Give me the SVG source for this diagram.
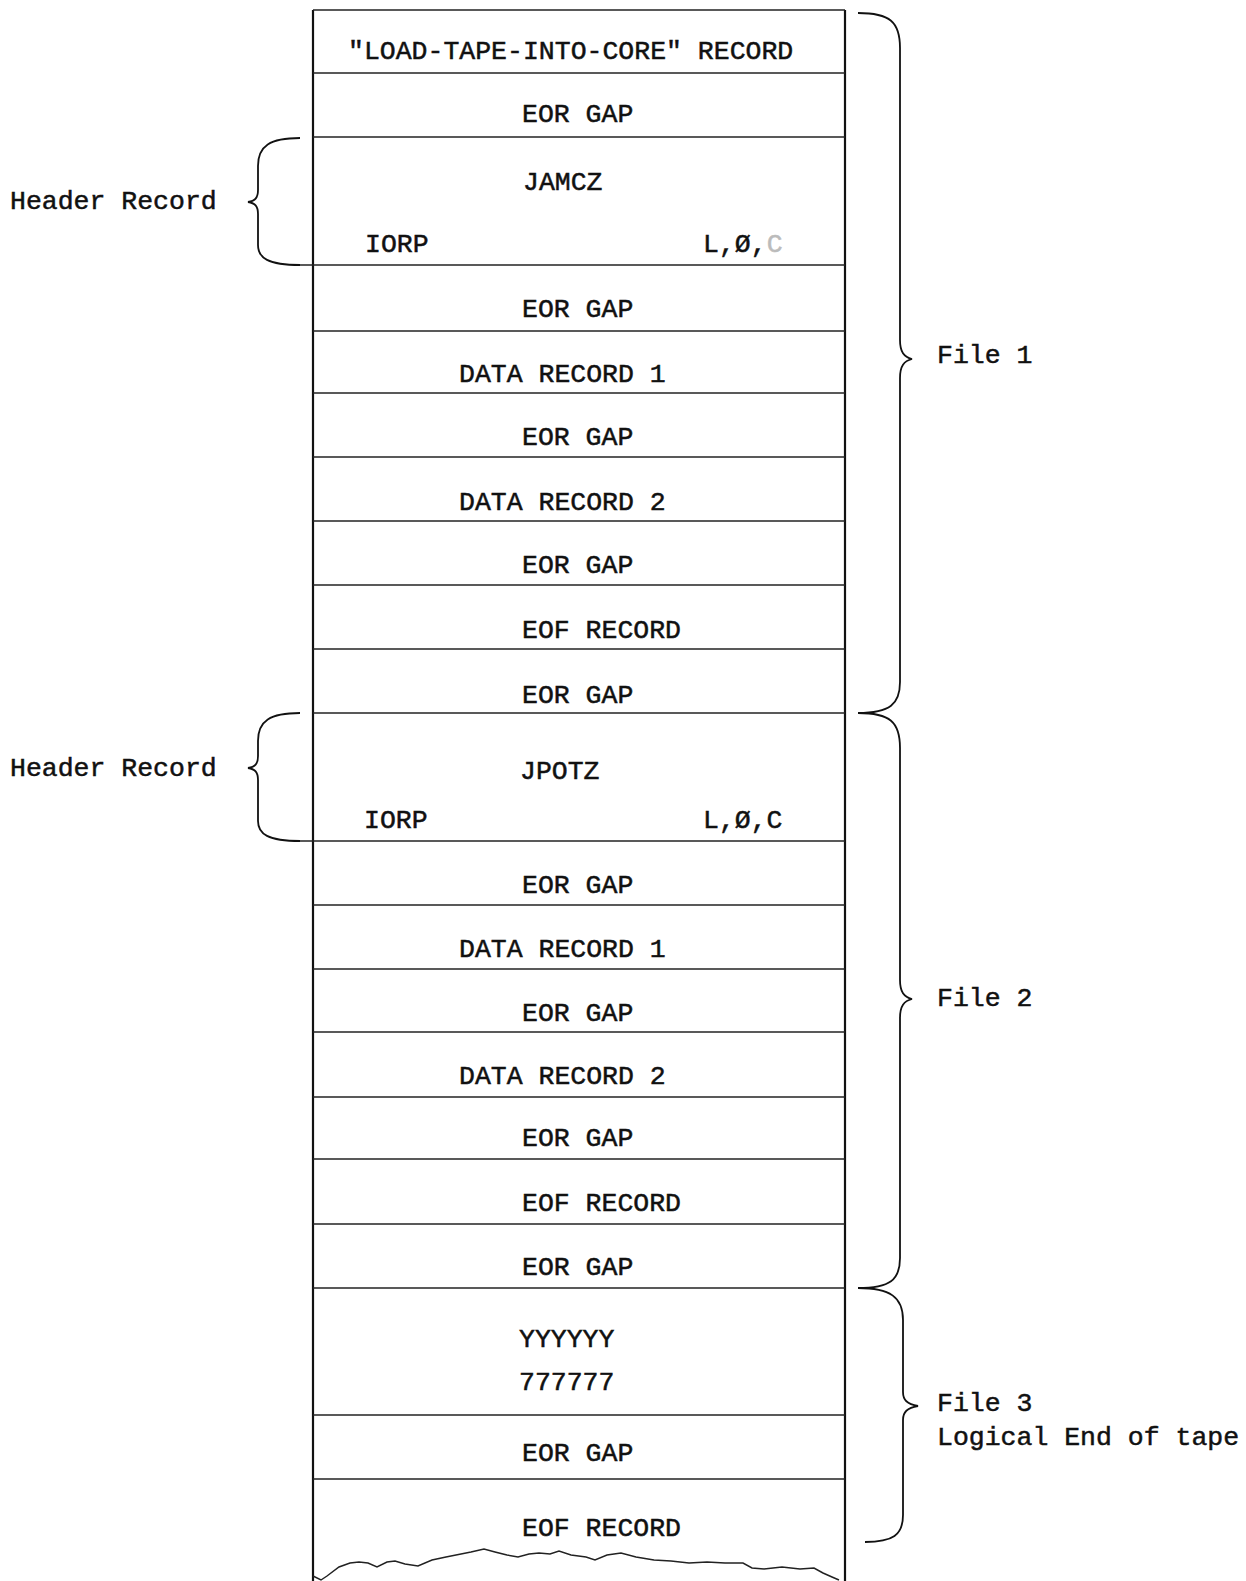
<svg xmlns="http://www.w3.org/2000/svg" width="1246" height="1581" viewBox="0 0 1246 1581">
<style>
  text { font-family: "Liberation Mono", "DejaVu Sans Mono", monospace; font-size: 26.5px; fill: #111; stroke: #111; stroke-width: 0.5; }
  .sep { stroke: #222; stroke-width: 1.5; fill: none; }
  .edge { stroke: #111; stroke-width: 2.2; fill: none; }
  .brace { stroke: #111; stroke-width: 1.8; fill: none; }
  .faint { fill: #bbb; stroke: #bbb; }
</style>
<rect width="1246" height="1581" fill="#fff"/>

<g id="tape">
  <line class="edge" x1="313" y1="10" x2="313" y2="1581"/>
  <line class="edge" x1="845" y1="10" x2="845" y2="1581"/>
  <line class="sep" x1="313" y1="10" x2="845" y2="10"/>
  <path class="sep" stroke-width="1.8" d="M313,1576 L321,1580 L327,1576 L339,1567 L350,1563 L359,1562 L368,1563 L377,1567 L387,1562 L395,1561 L405,1564 L418,1566 L432,1560 L446,1557 L461,1554 L471,1552 L484,1549 L495,1552 L507,1555 L518,1557 L529,1554 L539,1553 L550,1554 L559,1551 L571,1555 L586,1557 L595,1560 L607,1555 L621,1553 L636,1557 L654,1560 L671,1561 L689,1563 L707,1562 L725,1563 L743,1563 L752,1568 L764,1569 L782,1567 L800,1569 L814,1568 L823,1573 L832,1577 L839,1580"/>
</g>

<g id="separators">
  <line class="sep" x1="313" y1="73" x2="845" y2="73"/>
  <line class="sep" x1="313" y1="137" x2="845" y2="137"/>
  <line class="sep" x1="300" y1="265" x2="845" y2="265"/>
  <line class="sep" x1="313" y1="331" x2="845" y2="331"/>
  <line class="sep" x1="313" y1="393" x2="845" y2="393"/>
  <line class="sep" x1="313" y1="457" x2="845" y2="457"/>
  <line class="sep" x1="313" y1="521" x2="845" y2="521"/>
  <line class="sep" x1="313" y1="585" x2="845" y2="585"/>
  <line class="sep" x1="313" y1="649" x2="845" y2="649"/>
  <line class="sep" x1="313" y1="713" x2="845" y2="713"/>
  <line class="sep" x1="300" y1="841" x2="845" y2="841"/>
  <line class="sep" x1="313" y1="905" x2="845" y2="905"/>
  <line class="sep" x1="313" y1="969" x2="845" y2="969"/>
  <line class="sep" x1="313" y1="1032" x2="845" y2="1032"/>
  <line class="sep" x1="313" y1="1097" x2="845" y2="1097"/>
  <line class="sep" x1="313" y1="1159" x2="845" y2="1159"/>
  <line class="sep" x1="313" y1="1224" x2="845" y2="1224"/>
  <line class="sep" x1="313" y1="1288" x2="845" y2="1288"/>
  <line class="sep" x1="313" y1="1415" x2="845" y2="1415"/>
  <line class="sep" x1="313" y1="1479" x2="845" y2="1479"/>
</g>

<g id="rec-load"><text x="348" y="59">"LOAD-TAPE-INTO-CORE" RECORD</text></g>
<g id="gap-1"><text x="522" y="122">EOR GAP</text></g>
<g id="header-1">
  <text x="523" y="190">JAMCZ</text>
  <text x="365" y="252">IORP</text>
  <text x="703" y="252">L,Ø,<tspan class="faint">C</tspan></text>
</g>
<g id="gap-2"><text x="522" y="317">EOR GAP</text></g>
<g id="f1-data-1"><text x="459" y="382">DATA RECORD 1</text></g>
<g id="gap-3"><text x="522" y="445">EOR GAP</text></g>
<g id="f1-data-2"><text x="459" y="510">DATA RECORD 2</text></g>
<g id="gap-4"><text x="522" y="573">EOR GAP</text></g>
<g id="f1-eof"><text x="522" y="638">EOF RECORD</text></g>
<g id="gap-5"><text x="522" y="703">EOR GAP</text></g>
<g id="header-2">
  <text x="520" y="779">JPOTZ</text>
  <text x="364" y="828">IORP</text>
  <text x="703" y="828">L,Ø,C</text>
</g>
<g id="gap-6"><text x="522" y="893">EOR GAP</text></g>
<g id="f2-data-1"><text x="459" y="957">DATA RECORD 1</text></g>
<g id="gap-7"><text x="522" y="1021">EOR GAP</text></g>
<g id="f2-data-2"><text x="459" y="1084">DATA RECORD 2</text></g>
<g id="gap-8"><text x="522" y="1146">EOR GAP</text></g>
<g id="f2-eof"><text x="522" y="1211">EOF RECORD</text></g>
<g id="gap-9"><text x="522" y="1275">EOR GAP</text></g>
<g id="f3-record">
  <text x="519" y="1347">YYYYYY</text>
  <text x="519" y="1390">777777</text>
</g>
<g id="gap-10"><text x="522" y="1461">EOR GAP</text></g>
<g id="f3-eof"><text x="522" y="1536">EOF RECORD</text></g>

<g id="label-header-1"><text x="10" y="209">Header Record</text></g>
<g id="label-header-2"><text x="10" y="776">Header Record</text></g>
<g id="label-file-1"><text x="937" y="363">File 1</text></g>
<g id="label-file-2"><text x="937" y="1006">File 2</text></g>
<g id="label-file-3"><text x="937" y="1411">File 3</text><text x="937" y="1445">Logical End of tape</text></g>

<g id="connectors">
  <path class="brace" d="M300,138 C270,138 258,146 258,166 L258,190 C258,198 255,201 248,202 C255,203 258,206 258,214 L258,245 C258,258 268,265 300,265"/>
  <path class="brace" d="M300,713 C270,713 258,721 258,741 L258,756 C258,764 255,767 248,768 C255,769 258,772 258,780 L258,821 C258,834 268,841 300,841"/>
  <path class="brace" d="M858,13 C890,13 900,22 900,48 L900,340 C900,352 904,357 912,359 C904,361 900,366 900,378 L900,682 C900,704 890,713 858,713"/>
  <path class="brace" d="M858,713 C890,713 900,722 900,748 L900,980 C900,992 904,997 912,999 C904,1001 900,1006 900,1018 L900,1258 C900,1280 890,1288 858,1288"/>
  <path class="brace" d="M858,1288 C890,1288 903,1297 903,1320 L903,1392 C903,1400 907,1404 918,1406 C907,1408 903,1412 903,1420 L903,1515 C903,1535 893,1542 865,1542"/>
</g>
</svg>
